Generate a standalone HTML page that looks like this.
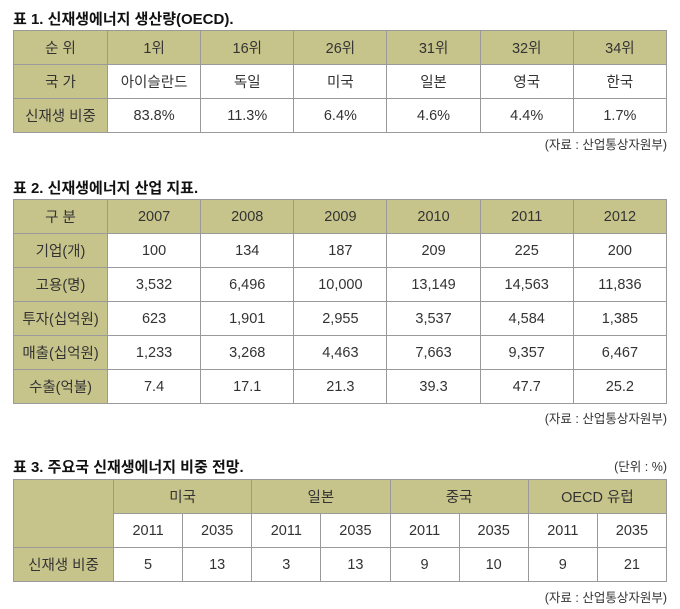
<!DOCTYPE html>
<html><head><meta charset="utf-8"><style>
body{margin:0;width:680px;height:609px;background:#fff;position:relative;font-family:"Liberation Sans","Noto Sans CJK KR",sans-serif;color:#333;overflow:hidden}
.t{position:absolute;left:13px;font-weight:bold;font-size:15px;color:#111}
.n{position:absolute;right:13px;font-size:12.5px;color:#333}
table{position:absolute;left:13px;border-collapse:collapse;table-layout:fixed;width:654px}
td{border:1px solid #9a9a9a;text-align:center;font-size:14.5px;height:33px;padding:0;color:#333}
td.h{background:#c7c48b}
</style></head><body>
<div class="t" style="top:8px">표 1. 신재생에너지 생산량(OECD).</div>
<table style="top:30px">
<colgroup><col style="width:94px"><col><col><col><col><col><col></colgroup>
<tr><td class="h">순 위</td><td class="h">1위</td><td class="h">16위</td><td class="h">26위</td><td class="h">31위</td><td class="h">32위</td><td class="h">34위</td></tr>
<tr><td class="h">국 가</td><td>아이슬란드</td><td>독일</td><td>미국</td><td>일본</td><td>영국</td><td>한국</td></tr>
<tr><td class="h">신재생 비중</td><td>83.8%</td><td>11.3%</td><td>6.4%</td><td>4.6%</td><td>4.4%</td><td>1.7%</td></tr>
</table>
<div class="n" style="top:134px">(자료 : 산업통상자원부)</div>

<div class="t" style="top:177px">표 2. 신재생에너지 산업 지표.</div>
<table style="top:199px">
<colgroup><col style="width:94px"><col><col><col><col><col><col></colgroup>
<tr><td class="h">구 분</td><td class="h">2007</td><td class="h">2008</td><td class="h">2009</td><td class="h">2010</td><td class="h">2011</td><td class="h">2012</td></tr>
<tr><td class="h">기업(개)</td><td>100</td><td>134</td><td>187</td><td>209</td><td>225</td><td>200</td></tr>
<tr><td class="h">고용(명)</td><td>3,532</td><td>6,496</td><td>10,000</td><td>13,149</td><td>14,563</td><td>11,836</td></tr>
<tr><td class="h">투자(십억원)</td><td>623</td><td>1,901</td><td>2,955</td><td>3,537</td><td>4,584</td><td>1,385</td></tr>
<tr><td class="h">매출(십억원)</td><td>1,233</td><td>3,268</td><td>4,463</td><td>7,663</td><td>9,357</td><td>6,467</td></tr>
<tr><td class="h">수출(억불)</td><td>7.4</td><td>17.1</td><td>21.3</td><td>39.3</td><td>47.7</td><td>25.2</td></tr>
</table>
<div class="n" style="top:408px">(자료 : 산업통상자원부)</div>

<div class="t" style="top:456px">표 3. 주요국 신재생에너지 비중 전망.</div>
<div class="n" style="top:456px">(단위 : %)</div>
<table style="top:479px">
<colgroup><col style="width:100px"><col><col><col><col><col><col><col><col></colgroup>
<tr><td class="h" rowspan="2"></td><td class="h" colspan="2">미국</td><td class="h" colspan="2">일본</td><td class="h" colspan="2">중국</td><td class="h" colspan="2">OECD 유럽</td></tr>
<tr><td>2011</td><td>2035</td><td>2011</td><td>2035</td><td>2011</td><td>2035</td><td>2011</td><td>2035</td></tr>
<tr><td class="h">신재생 비중</td><td>5</td><td>13</td><td>3</td><td>13</td><td>9</td><td>10</td><td>9</td><td>21</td></tr>
</table>
<div class="n" style="top:587px">(자료 : 산업통상자원부)</div>
</body></html>
